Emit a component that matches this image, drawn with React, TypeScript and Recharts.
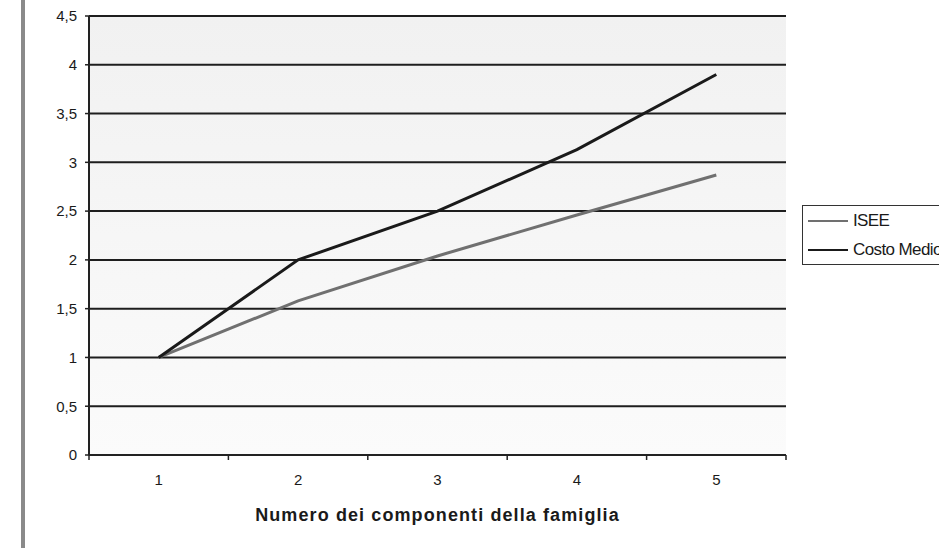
import { CartesianGrid, Label, Line, LineChart, XAxis, YAxis } from 'recharts';

const categories = ['1', '2', '3', '4', '5'];
const isee = [1, 1.58, 2.04, 2.46, 2.87];
const costoMedio = [1, 2, 2.5, 3.13, 3.9];
const yTicks = [0, 0.5, 1, 1.5, 2, 2.5, 3, 3.5, 4, 4.5];

const data = categories.map((c, i) => ({ n: c, isee: isee[i], costo: costoMedio[i] }));

const W = 939;
const H = 548;
const Y_AXIS_W = 89;
const X_AXIS_H = 93;
const MARGIN_RIGHT = 153;
const PLOT_W = W - Y_AXIS_W - MARGIN_RIGHT;
const HALF_STEP = PLOT_W / categories.length / 2;
const AXIS_Y = H - X_AXIS_H;

const font = '"Liberation Sans", Arial, sans-serif';

const XTick = (props: any) => {
    const { x, payload, index } = props;
    const last = index === categories.length - 1;
    return (
        <g>
            <line x1={x - HALF_STEP} x2={x - HALF_STEP} y1={AXIS_Y} y2={AXIS_Y + 5} stroke="#222" strokeWidth={1.5} />
            {last && (
                <line x1={x + HALF_STEP} x2={x + HALF_STEP} y1={AXIS_Y} y2={AXIS_Y + 5} stroke="#222" strokeWidth={1.5} />
            )}
            <text x={x} y={AXIS_Y + 30} textAnchor="middle" fontSize={15} fill="#1a1a1a" fontFamily={font}>
                {payload.value}
            </text>
        </g>
    );
};

export default function App() {
    return (
        <div style={{ position: 'absolute', left: 0, top: 0, width: W, height: H, overflow: 'hidden', background: '#fff', fontFamily: font }}>
            <div style={{ position: 'absolute', left: 21, top: 0, width: 4, height: H, background: '#8a8a8a' }} />
            <LineChart width={W} height={H} data={data} margin={{ top: 16, right: MARGIN_RIGHT, bottom: 0, left: 0 }}>
                <defs>
                    <linearGradient id="bg" x1="0" y1="0" x2="0" y2="1">
                        <stop offset="0%" stopColor="#f1f1f1" />
                        <stop offset="100%" stopColor="#fbfbfb" />
                    </linearGradient>
                </defs>
                <CartesianGrid vertical={false} stroke="#1e1e1e" strokeWidth={2} fill="url(#bg)" fillOpacity={1} />
                <XAxis
                    dataKey="n"
                    height={X_AXIS_H}
                    padding={{ left: HALF_STEP, right: HALF_STEP }}
                    axisLine={{ stroke: '#222', strokeWidth: 2 }}
                    tickLine={false}
                    tick={<XTick />}
                    interval={0}
                >
                    <Label
                        value="Numero dei componenti della famiglia"
                        position="insideBottom"
                        offset={27}
                        style={{ fontSize: 18, fontWeight: 'bold', fill: '#1a1a1a', fontFamily: font, letterSpacing: 1.1 }}
                    />
                </XAxis>
                <YAxis
                    width={Y_AXIS_W}
                    domain={[0, 4.5]}
                    ticks={yTicks}
                    interval={0}
                    axisLine={{ stroke: '#222', strokeWidth: 2 }}
                    tickLine={{ stroke: '#222', strokeWidth: 1.5 }}
                    tickSize={4}
                    tickMargin={8}
                    tick={{ fontSize: 15, fill: '#1a1a1a', fontFamily: font }}
                    tickFormatter={(v: number) => String(v).replace('.', ',')}
                />
                <YAxis yAxisId="r" orientation="right" width={0} tick={false} tickLine={false} axisLine={{ stroke: '#888', strokeWidth: 1 }} />
                <Line type="linear" dataKey="isee" stroke="#707070" strokeWidth={3} dot={false} isAnimationActive={false} />
                <Line type="linear" dataKey="costo" stroke="#1a1a1a" strokeWidth={3} dot={false} isAnimationActive={false} />
            </LineChart>
            <div
                style={{
                    position: 'absolute',
                    left: 802,
                    top: 205,
                    width: 200,
                    height: 58,
                    border: '1px solid #333',
                    background: '#fff',
                    fontSize: 17,
                    color: '#1a1a1a',
                    letterSpacing: -0.6,
                }}
            >
                {[
                    { name: 'ISEE', color: '#707070' },
                    { name: 'Costo Medio', color: '#1a1a1a' },
                ].map((e, i) => (
                    <div key={e.name} style={{ position: 'absolute', left: 5, top: 6 + i * 29, height: 18, display: 'flex', alignItems: 'center', whiteSpace: 'nowrap' }}>
                        <span style={{ display: 'inline-block', width: 40, height: 2, background: e.color, marginRight: 5 }} />
                        <span>{e.name}</span>
                    </div>
                ))}
            </div>
        </div>
    );
}
